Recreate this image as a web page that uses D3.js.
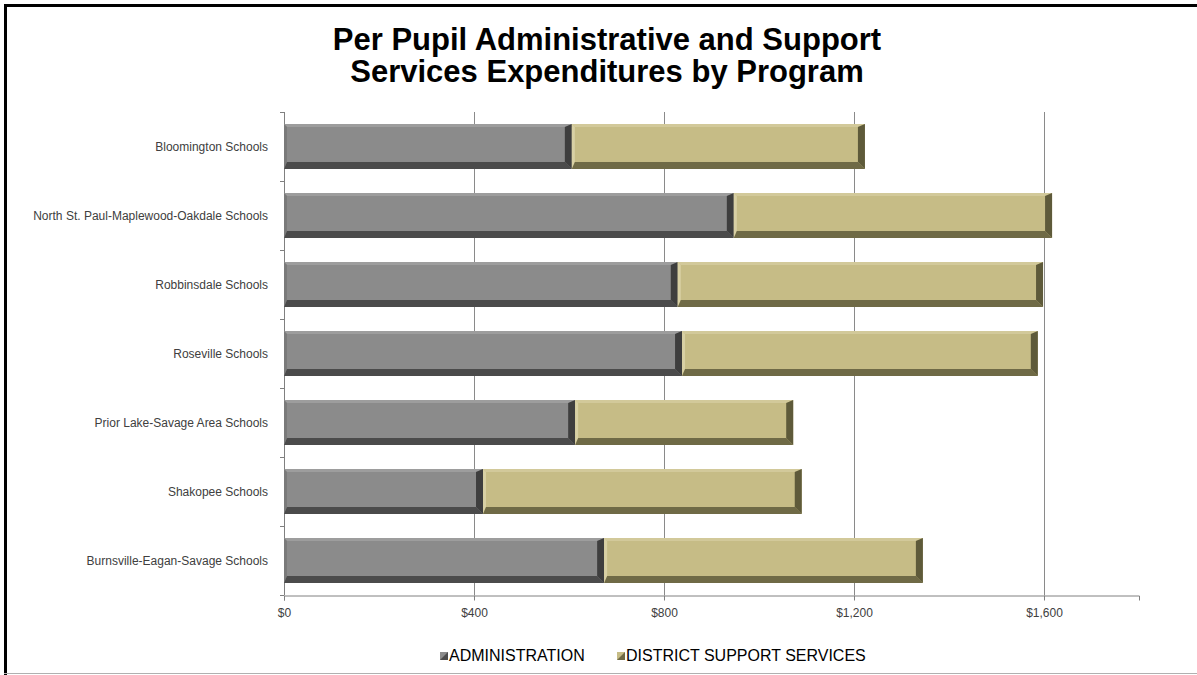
<!DOCTYPE html>
<html>
<head>
<meta charset="utf-8">
<script src="https://cdn.jsdelivr.net/npm/d3@7"></script>
<style>
  html, body { margin: 0; padding: 0; background: #fff; }
  svg { display: block; }
  text { font-family: "Liberation Sans", Arial, sans-serif; }
</style>
</head>
<body>
<svg id="chart" width="1197" height="675"></svg>
<script>
// Per-pupil spending by district (dollars)
const districts = [
  "Bloomington Schools",
  "North St. Paul-Maplewood-Oakdale Schools",
  "Robbinsdale Schools",
  "Roseville Schools",
  "Prior Lake-Savage Area Schools",
  "Shakopee Schools",
  "Burnsville-Eagan-Savage Schools"
];
const administration = [606, 947, 829, 838, 613, 419, 674];
const supportServices = [617, 670, 769, 749, 459, 671, 671];
const seriesNames = ["ADMINISTRATION", "DISTRICT SUPPORT SERVICES"];
const xTicks = [0, 400, 800, 1200, 1600];

const svg = d3.select("#chart");
const W = 1197, H = 675;
const margin = { left: 284, right: 58, top: 112, bottom: 80 };

// Frame
svg.append("line").attr("x1", 5.5).attr("x2", 5.5).attr("y1", 4).attr("y2", H)
  .attr("stroke", "#000").attr("stroke-width", 3);
svg.append("line").attr("x1", 4).attr("x2", W).attr("y1", 5.5).attr("y2", 5.5)
  .attr("stroke", "#000").attr("stroke-width", 3);
svg.append("line").attr("x1", 4).attr("x2", W).attr("y1", 673.5).attr("y2", 673.5)
  .attr("stroke", "#b0b0b0").attr("stroke-width", 1);

// Title
const title = svg.append("text").attr("x", 607).attr("text-anchor", "middle")
  .attr("font-size", 31).attr("font-weight", "bold").attr("fill", "#000");
title.append("tspan").attr("x", 607).attr("y", 50).text("Per Pupil Administrative and Support");
title.append("tspan").attr("x", 607).attr("y", 82).text("Services Expenditures by Program");

const x = d3.scaleLinear().domain([0, 1800]).range([margin.left, W - margin.right]);
const y = d3.scaleBand().domain(districts).range([margin.top, H - margin.bottom])
  .paddingInner(0.35).paddingOuter(0.175);

// Gridlines
svg.append("g").selectAll("line").data(xTicks.filter(d => d > 0)).join("line")
  .attr("x1", d => Math.round(x(d)) + 0.5).attr("x2", d => Math.round(x(d)) + 0.5)
  .attr("y1", margin.top).attr("y2", H - margin.bottom)
  .attr("stroke", "#8a8a8a").attr("stroke-width", 1);

// Axes
const xAxis = svg.append("g").attr("transform", `translate(0,${H - margin.bottom + 0.5})`)
  .call(d3.axisBottom(x).tickValues(xTicks).tickSize(5).tickPadding(8)
    .tickFormat(d => "$" + d3.format(",")(d)));
xAxis.select(".domain").attr("stroke", "#808080");
xAxis.selectAll(".tick line").attr("stroke", "#808080");
xAxis.selectAll("text").attr("font-size", 12).attr("fill", "#404040")
  .attr("font-family", "'Liberation Sans', Arial, sans-serif");

const bounds = [margin.top, ...districts.map((d, i) => y(d) + y.bandwidth() + y.step() * y.paddingInner() / 2)];
const yAxis = svg.append("g");
yAxis.append("line").attr("x1", margin.left + 0.5).attr("x2", margin.left + 0.5)
  .attr("y1", margin.top).attr("y2", H - margin.bottom).attr("stroke", "#808080");
yAxis.selectAll("line.tk").data(bounds).join("line").attr("class", "tk")
  .attr("x1", margin.left - 4).attr("x2", margin.left)
  .attr("y1", d => Math.round(d) + 0.5).attr("y2", d => Math.round(d) + 0.5)
  .attr("stroke", "#808080");
yAxis.selectAll("text").data(districts).join("text")
  .attr("x", margin.left - 16).attr("y", d => y(d) + y.bandwidth() / 2)
  .attr("dy", "0.35em").attr("text-anchor", "end")
  .attr("font-size", 12).attr("fill", "#404040").text(d => d);

// Beveled bar segments
const palettes = [
  { face: "#8b8b8b", top: "#9d9d9d", left: "#7a7a7a", bottom: "#4b4b4b", right: "#3e3e3e" },
  { face: "#c6bc86", top: "#d2c99a", left: "#d8d0a4", bottom: "#6f6a46", right: "#5e5a3a" }
];
const bev = 7;

const segments = [];
districts.forEach((d, i) => {
  segments.push({ d, s: 0, start: 0, end: administration[i] });
  segments.push({ d, s: 1, start: administration[i], end: administration[i] + supportServices[i] });
});

const bars = svg.append("g");
segments.forEach(seg => {
  const x0 = x(seg.start), x1 = x(seg.end);
  const y0 = y(seg.d), y1 = y(seg.d) + y.bandwidth();
  const p = palettes[seg.s];
  const g = bars.append("g");
  g.append("rect").attr("x", x0).attr("y", y0).attr("width", x1 - x0).attr("height", y1 - y0)
    .attr("fill", p.face);
  const poly = pts => pts.map(q => q.join(",")).join(" ");
  g.append("polygon").attr("points", poly([[x0, y0], [x1, y0], [x1 - bev, y0 + 3], [x0 + 3, y0 + 3]]))
    .attr("fill", p.top);
  g.append("polygon").attr("points", poly([[x0, y0], [x0 + 3, y0 + 3], [x0 + 3, y1 - bev], [x0, y1]]))
    .attr("fill", p.left);
  g.append("polygon").attr("points", poly([[x0, y1], [x0 + 3, y1 - bev], [x1 - bev, y1 - bev], [x1, y1]]))
    .attr("fill", p.bottom);
  g.append("polygon").attr("points", poly([[x1 - bev, y0 + 3], [x1, y0], [x1, y1], [x1 - bev, y1 - bev]]))
    .attr("fill", p.right);
});

// Legend
const legend = svg.append("g");
const legendItems = [
  { name: seriesNames[0], x: 440, p: palettes[0] },
  { name: seriesNames[1], x: 617, p: palettes[1] }
];
legendItems.forEach(it => {
  legend.append("rect").attr("x", it.x).attr("y", 652).attr("width", 8).attr("height", 8)
    .attr("fill", it.p.face);
  legend.append("polygon")
    .attr("points", `${it.x},660 ${it.x + 8},652 ${it.x + 8},660`).attr("fill", it.p.bottom);
  legend.append("text").attr("x", it.x + 9).attr("y", 661).attr("font-size", 16)
    .attr("fill", "#000").text(it.name);
});
</script>
</body>
</html>
